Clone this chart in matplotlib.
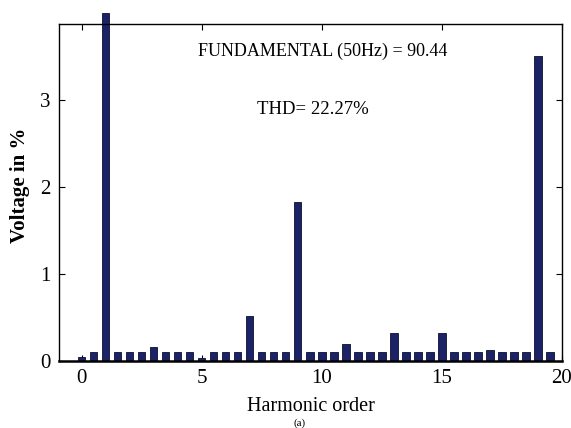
import matplotlib
matplotlib.use("Agg")
import matplotlib.pyplot as plt

orders = [0, 0.5, 1, 1.5, 2, 2.5, 3, 3.5, 4, 4.5,
          5, 5.5, 6, 6.5, 7, 7.5, 8, 8.5, 9, 9.5,
          10, 10.5, 11, 11.5, 12, 12.5, 13, 13.5, 14, 14.5,
          15, 15.5, 16, 16.5, 17, 17.5, 18, 18.5, 19, 19.5]
voltage = [0.05, 0.10, 4.00, 0.10, 0.10, 0.10, 0.16, 0.10, 0.10, 0.10,
           0.03, 0.10, 0.10, 0.10, 0.52, 0.10, 0.10, 0.10, 1.83, 0.10,
           0.10, 0.10, 0.20, 0.10, 0.10, 0.10, 0.32, 0.10, 0.10, 0.10,
           0.32, 0.10, 0.10, 0.10, 0.13, 0.10, 0.10, 0.10, 3.50, 0.10]
xticks = [0, 5, 10, 15, 20]
yticks = [0, 1, 2, 3]

plt.rcParams['font.family'] = ['Liberation Serif', 'DejaVu Serif']

fig = plt.figure(figsize=(5.71, 4.28), dpi=100)
ax = fig.add_axes([59/571, 1-361/428, (562-59)/571, (361-24)/428])

bars = ax.bar(orders, voltage, width=0.3, color='#1b2366', edgecolor='#0a0f30',
              linewidth=0.6, zorder=2)
for b in bars:
    b.set_clip_on(False)

ax.set_xlim(-0.95, 20)
ax.set_ylim(0, 3.87)
ax.set_xticks(xticks)
ax.set_yticks(yticks)
ax.tick_params(direction='in', length=4, width=0.8, top=True, right=True,
               labelsize=15, pad=6)
for s in ax.spines.values():
    s.set_linewidth(1.0)
ax.spines['bottom'].set_linewidth(1.8)

ax.set_xlabel('Harmonic order', fontsize=14.5)
ax.xaxis.set_label_coords(0.5, -0.108)
ax.set_ylabel('Voltage in %', fontsize=15, fontweight='bold')
ax.yaxis.set_label_coords(-0.057, 0.52)

ax.text(0.525, 0.92, 'FUNDAMENTAL (50Hz) = 90.44', transform=ax.transAxes,
        ha='center', va='center', fontsize=13)
ax.text(0.505, 0.745, 'THD= 22.27%', transform=ax.transAxes,
        ha='center', va='center', fontsize=13.5)
fig.text(0.525, 0.0, '(a)', ha='center', va='bottom', fontsize=8)

fig.savefig('out.png', dpi=100)
